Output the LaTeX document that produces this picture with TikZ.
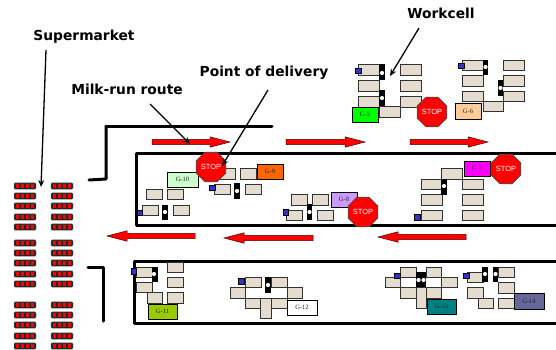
\documentclass[tikz,border=0pt]{standalone}
\usepackage{fontspec}
\setmainfont{Liberation Serif}
\newfontfamily\labfont{DejaVu Sans}
\newfontfamily\stopfont{Liberation Sans}
\usetikzlibrary{shapes.geometric,arrows.meta}
\definecolor{cellfill}{HTML}{E4DDCF}
\definecolor{cfive}{HTML}{00FF00}
\definecolor{csix}{HTML}{FFCC99}
\definecolor{cseven}{HTML}{FF00FF}
\definecolor{ceight}{HTML}{CC99FF}
\definecolor{cnine}{HTML}{FF6600}
\definecolor{cten}{HTML}{CCFFCC}
\definecolor{celeven}{HTML}{99CC00}
\definecolor{cthirteen}{HTML}{008080}
\definecolor{cfourteen}{HTML}{666699}
\definecolor{pureblue}{HTML}{3333CC}
\definecolor{purered}{HTML}{FF0000}
\definecolor{gtextcol}{HTML}{222222}
\tikzset{
  title/.style={font=\labfont\bfseries\fontsize{13.8}{15}\selectfont,text=black,inner sep=0pt},
  leader/.style={draw=black,line width=1.3pt,-{Stealth[length=7pt,width=6pt]}},
  route/.style={draw=black,line width=3pt,line cap=round,line join=round},
  wbox/.style={draw=black!80,line width=1pt,fill=cellfill},
  wbar/.style={fill=black,draw=none},
  wdot/.style={fill=white,draw=none},
  wblue/.style={fill=pureblue,draw=black,line width=0.5pt},
  stopsign/.style={regular polygon,regular polygon sides=8,minimum size=32pt,inner sep=0pt,fill=purered,draw=black!70,line width=0.6pt,text=white,font=\stopfont\fontsize{7.5}{8}\selectfont},
  glabel/.style={draw=black,line width=0.9pt},
  gtext/.style={inner sep=0pt,font=\fontsize{6.5}{7}\selectfont,text=gtextcol},
  rarrow/.style={fill=purered,draw=black!70!purered,line width=0.5pt},
  rack/.style={fill=black!85,draw=black!60,line width=0.4pt,rounded corners=1pt},
  cell/.style={fill=purered,draw=none}
}
\newcommand{\wb}[4]{\path[wbox] (#1,#2) rectangle (#3,#4);}
\newcommand{\wbr}[4]{\path[wbar] (#1,#2) rectangle (#3,#4);}
\newcommand{\wdt}[2]{\path[wdot] (#1,#2) circle (2.1);}
\newcommand{\wbl}[4]{\path[wblue] (#1,#2) rectangle (#3,#4);}
\newcommand{\glab}[7]{\path[glabel,fill=#6] (#2,#3) rectangle (#4,#5);\node[gtext] (#1) at ({(#2+#4)/2},{(#3+#5)/2}) {#7};}
\newcommand{\rarr}[3]{\path[rarrow] (#1,#3-2.7) -- (#2-20,#3-2.7) -- (#2-20,#3-5.2) -- (#2,#3) -- (#2-20,#3+5.2) -- (#2-20,#3+2.7) -- (#1,#3+2.7) -- cycle;}
\newcommand{\larr}[3]{\path[rarrow] (#2,#3-2.7) -- (#1+20,#3-2.7) -- (#1+20,#3-5.2) -- (#1,#3) -- (#1+20,#3+5.2) -- (#1+20,#3+2.7) -- (#2,#3+2.7) -- cycle;}
\begin{document}
\begin{tikzpicture}[x=1pt,y=-1pt]
\useasboundingbox[fill=white] (0,0) rectangle (556,349);

% route lines
\draw[route] (106,126) -- (272,126);
\draw[route] (106,126) -- (106,179) -- (89,180);
\draw[route,line cap=butt] (556,153) -- (136,153) -- (136,225) -- (556,225);
\draw[route,line cap=butt] (556,261) -- (134,261) -- (134,323) -- (556,323);
\draw[route] (88,267) -- (103,267) -- (103,321);

% red arrows
\rarr{152}{230}{142}
\rarr{286}{365}{142}
\rarr{410}{488}{142}
\larr{107}{195}{236}
\larr{224}{313}{238}
\larr{378}{466}{237}

% supermarket
\foreach \y in {186,196,206,217,227,243,253,263,274,284,305,315,325,336,346}{
  \foreach \x in {14,51}{
    \path[rack] (\x,\y-3.2) rectangle (\x+22,\y+3.2);
    \foreach \k in {0,1,2,3}{
      \path[cell] (\x+1.6+5*\k,\y-2) rectangle (\x+5.2+5*\k,\y+2);
    }
  }
}

% G-5
\wb{358}{64}{379}{75}\wb{358}{80}{379}{91}\wb{358}{96}{379}{107}
\wb{400}{64}{421}{75}\wb{400}{80}{421}{91}\wb{400}{96}{421}{107}
\wb{379}{106}{400}{117}
\wbr{379}{64}{385}{80}\wbr{379}{90}{385}{106}
\wdt{382}{73}\wdt{382}{98}\wbl{355}{68}{361}{73}
\glab{g5}{352}{107}{378}{122}{cfive}{G-5}
\node[stopsign] (stopa) at (432,112) {STOP};

% G-6
\wb{462}{60}{483}{70}\wb{462}{75}{483}{86}\wb{462}{91}{483}{101}
\wb{503}{60}{524}{70}\wb{503}{75}{524}{86}\wb{503}{91}{524}{101}
\wb{483}{101}{503}{111}
\wbr{483}{60}{488}{75}\wbr{498}{80}{503}{96}
\wdt{485.5}{67}\wdt{500.5}{88}\wbl{458}{63}{464}{68}
\glab{g6}{455}{103}{481}{119}{csix}{G-6}

% G-10
\wb{146}{189}{162}{199}\wb{167}{189}{183}{199}\wb{142}{205}{158}{215}\wb{173}{205}{189}{215}
\wbr{162}{205}{168}{220}\wdt{165}{212}\wbl{137}{210}{142}{215}
\glab{g10}{167}{172}{198}{187}{cten}{G-10}

% G-9
\wb{219}{168}{235}{179}\wb{240}{168}{256}{179}\wb{214}{184}{230}{194}\wb{245}{184}{261}{194}
\wbr{234}{183}{240}{199}\wdt{237}{191}\wbl{209}{185}{215}{190}
\glab{g9}{257}{164}{283}{179}{cnine}{G-9}
\node[stopsign] (stopb) at (211,167) {STOP};

% G-8
\wb{291}{194}{307}{205}\wb{312}{194}{328}{205}\wb{286}{210}{302}{220}\wb{317}{210}{333}{220}
\wbr{307}{204}{312}{220}\wdt{309.5}{212}\wbl{283}{209}{288}{215}
\glab{g8}{331}{192}{357}{207}{ceight}{G-8}
\node[stopsign] (stopc) at (363,212) {STOP};

% G-7
\wb{421}{179}{442}{189}\wb{421}{194}{442}{205}\wb{421}{210}{442}{220}
\wb{462}{179}{483}{189}\wb{462}{194}{483}{205}\wb{462}{210}{483}{220}
\wb{441}{168}{462}{179}
\wbr{441}{179}{447}{195}\wdt{444}{186}\wbl{414}{214}{420}{220}
\glab{g7}{464}{161}{490}{176}{cseven}{G-7}
\node[stopsign] (stopd) at (506,169) {STOP};

% G-11
\wb{136}{267}{152}{277}\wb{167}{262}{183}{272}\wb{167}{277}{183}{287}\wb{136}{282}{152}{292}
\wb{147}{292}{162}{303}\wb{167}{292}{183}{303}
\wbr{152}{267}{158}{282}\wdt{154}{274}\wbl{131}{268}{136}{274}
\glab{g11}{148}{304}{177}{319}{celeven}{G-11}

% G-12
\wb{245}{277}{261}{287}\wb{271}{277}{287}{287}\wb{230}{287}{245}{298}\wb{287}{287}{302}{298}
\wb{245}{298}{261}{308}\wb{271}{298}{287}{308}\wb{260}{298}{271}{318}
\wbr{265}{277}{271}{293}\wdt{268}{285}\wbl{238}{278}{244}{284}
\glab{g12}{287}{300}{317}{315}{white}{G-12}

% G-13
\wb{400}{267}{416}{277}\wb{426}{267}{441}{277}\wb{385}{277}{400}{287}\wb{441}{277}{457}{287}
\wb{400}{287}{416}{298}\wb{426}{287}{441}{298}\wb{416}{287}{426}{308}
\wbr{416}{272}{426}{287}\wdt{418.5}{280}\wdt{423.5}{280}\wbl{394}{273}{400}{278}
\glab{g13}{427}{299}{456}{314}{cthirteen}{G-13}

% G-14
\wb{467}{272}{483}{282}\wb{498}{267}{514}{277}\wb{498}{282}{514}{293}\wb{467}{287}{483}{298}
\wb{478}{298}{493}{308}\wb{498}{298}{514}{308}
\wbr{482}{267}{488}{282}\wbr{493}{267}{498}{282}\wdt{485}{274}\wdt{495.5}{274}\wbl{463}{273}{469}{278}
\glab{g14}{514}{293}{544}{309}{cfourteen}{G-14}

% titles and leaders
\node[title] (workcell) at (441,13) {Workcell};
\node[title] (supermarket) at (84,37) {Supermarket};
\node[title] (pod) at (264,73) {Point of delivery};
\node[title] (milk) at (127,89) {Milk-run route};
\coordinate (wstart) at (419,28);
\coordinate (wend) at (390,76);
\coordinate (pstart) at (268,90);
\coordinate (pend) at (222,166);
\coordinate (mstart) at (150,104);
\coordinate (mend) at (190,144);
\coordinate (sstart) at (46,50);
\coordinate (send) at (41,187);
\draw[leader] (wstart) -- (wend);
\draw[leader] (pstart) -- (pend);
\draw[leader] (mstart) -- (mend);
\draw[leader] (sstart) -- (send);
\end{tikzpicture}
\end{document}
